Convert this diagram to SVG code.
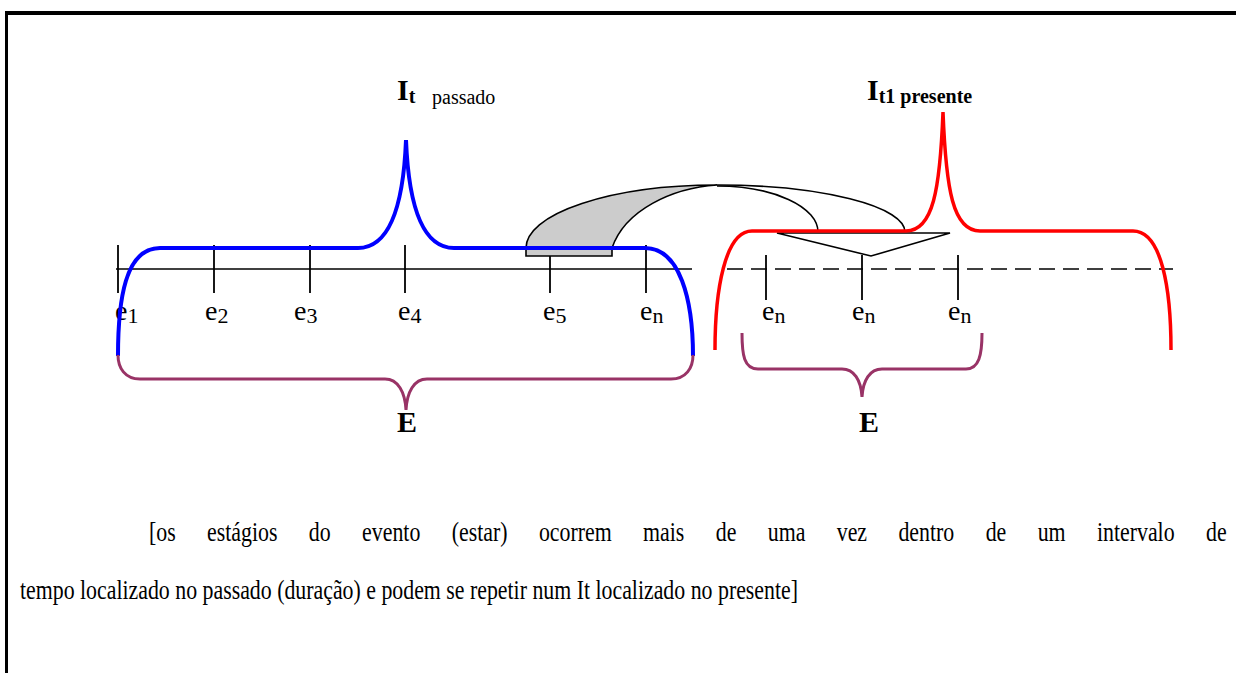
<svg xmlns="http://www.w3.org/2000/svg" width="1236" height="673" viewBox="0 0 1236 673">
<style>
.frame{stroke:#000;fill:none}
.axis{stroke:#000;stroke-width:1.6;fill:none}
.tick{stroke:#000;stroke-width:1.8}
.dash{stroke:#000;stroke-width:1.6;stroke-dasharray:16 8;fill:none}
.blue{stroke:#0000ff;stroke-width:4;fill:none}
.red{stroke:#ff0000;stroke-width:3.5;fill:none}
.plum{stroke:#993366;stroke-width:3;fill:none}
.arc{stroke:#000;stroke-width:1.6;fill:none}
text{font-family:'Liberation Serif','Times New Roman',serif;fill:#000}
.lab{font-size:28px}
.sub{font-size:22px}
.big{font-size:30px;font-weight:bold}
.body{font-size:27px}
</style>
<rect width="1236" height="673" fill="#fff"/>
<g id="frame">
<line class="frame" x1="5" y1="13" x2="1236" y2="13" stroke-width="4"/>
<line class="frame" x1="6.5" y1="11" x2="6.5" y2="673" stroke-width="3"/>
</g>
<g id="connectors">
<path d="M526,256 L526,248 A191,63 0 0 1 717,185 C672,188 625,210 612,248 L612,256 Z" fill="#cccccc" stroke="#000" stroke-width="1.6"/>
<path class="arc" d="M717,185 A188,47 0 0 1 905,232"/>
<path class="arc" d="M717,186 A101,46 0 0 1 818,232"/>
<polygon points="777,233 950,233 871,256" fill="#fff" stroke="#000" stroke-width="1.6"/>
</g>
<g id="axis-past">
<line class="axis" x1="116" y1="269" x2="692" y2="269"/>
<line class="tick" x1="118" y1="245" x2="118" y2="293"/>
<line class="tick" x1="214" y1="245" x2="214" y2="293"/>
<line class="tick" x1="310" y1="245" x2="310" y2="293"/>
<line class="tick" x1="405" y1="245" x2="405" y2="293"/>
<line class="tick" x1="550" y1="256" x2="550" y2="293"/>
<line class="tick" x1="646" y1="245" x2="646" y2="293"/>
</g>
<g id="axis-present">
<line class="dash" x1="727" y1="269" x2="1173" y2="269"/>
<line class="tick" x1="766" y1="255" x2="766" y2="300"/>
<line class="tick" x1="862" y1="255" x2="862" y2="300"/>
<line class="tick" x1="958" y1="255" x2="958" y2="300"/>
</g>
<g id="labels-e">
<text class="lab" x="115" y="320">e<tspan class="sub" dy="3">1</tspan></text>
<text class="lab" x="205" y="320">e<tspan class="sub" dy="3">2</tspan></text>
<text class="lab" x="294" y="320">e<tspan class="sub" dy="3">3</tspan></text>
<text class="lab" x="398" y="320">e<tspan class="sub" dy="3">4</tspan></text>
<text class="lab" x="543" y="320">e<tspan class="sub" dy="3">5</tspan></text>
<text class="lab" x="640" y="320">e<tspan class="sub" dy="3">n</tspan></text>
<text class="lab" x="762" y="320">e<tspan class="sub" dy="3">n</tspan></text>
<text class="lab" x="852" y="320">e<tspan class="sub" dy="3">n</tspan></text>
<text class="lab" x="948" y="320">e<tspan class="sub" dy="3">n</tspan></text>
</g>
<g id="brace-past">
<path class="blue" d="M118,356 C118,300 125,248 160,248 L358,248 C386,248 403,215 406,140 C409,215 426,248 454,248 L645,248 C680,248 693,300 693,356"/>
<text class="big" x="397" y="100">I<tspan font-size="20" dy="3">t</tspan><tspan font-size="20" font-weight="normal" x="432" dy="1">passado</tspan></text>
</g>
<g id="brace-present">
<path class="red" d="M715,350 C715,290 725,231 752,231 L906,231 C933,231 940,190 943,112 C946,190 953,231 980,231 L1133,231 C1162,231 1171,290 1171,350"/>
<text class="big" x="867" y="100">I<tspan font-size="20" dy="3">t1 presente</tspan></text>
</g>
<g id="E-past">
<path class="plum" d="M118,355 C118,368 125,379 140,379 L385,379 C398,379 405,392 406,410 C407,392 414,379 427,379 L671,379 C686,379 693,368 693,355"/>
<text class="big" x="407" y="432" text-anchor="middle">E</text>
</g>
<g id="E-present">
<path class="plum" d="M742,333 C742,355 744,369 758,369 L842,369 C854,369 861,380 862,397 C863,380 870,369 882,369 L966,369 C979,369 982,355 982,333"/>
<text class="big" x="869" y="432" text-anchor="middle">E</text>
</g>
<g id="caption">
<text class="body" transform="translate(149,541) scale(0.81,1)" x="0" y="0" word-spacing="32">[os estágios do evento (estar) ocorrem mais de uma vez dentro de um intervalo de</text>
<text class="body" x="20" y="599" textLength="778" lengthAdjust="spacingAndGlyphs">tempo localizado no passado (duração) e podem se repetir num It localizado no presente]</text>
</g>
</svg>
